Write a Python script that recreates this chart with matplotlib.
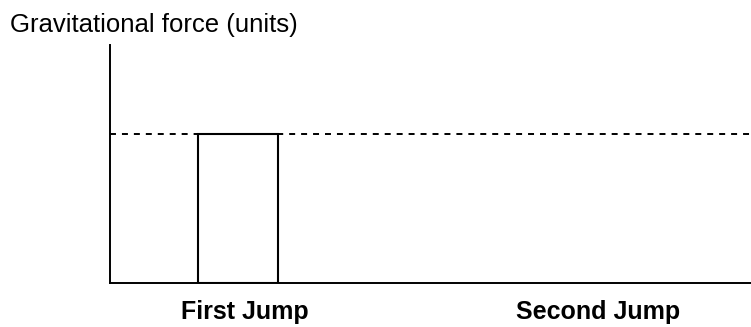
"""Gravitational force bar chart for two jumps, with a dashed reference line."""
import matplotlib
matplotlib.use("Agg")
import matplotlib.pyplot as plt
from matplotlib.transforms import ScaledTranslation

plt.rcParams["font.family"] = ["Liberation Sans", "DejaVu Sans"]
plt.rcParams["lines.scale_dashes"] = False

# data
categories = ["First Jump", "Second Jump"]
forces = [1.0, 0.0]
reference_force = 1.0

fig = plt.figure(figsize=(7.51, 3.27), dpi=100)
ax = fig.add_axes([0.1465, 0.1346, 0.8535, 0.7278])

positions = list(range(len(categories)))
# only non-zero forces get a bar
for x, f in zip(positions, forces):
    if f > 0:
        ax.bar(x, f, width=0.227, facecolor="white", edgecolor="black",
               linewidth=1.5, zorder=3)

ax.axhline(reference_force, color="black", linewidth=1.4,
           linestyle=(0, (4.3, 4.3)), zorder=2)

ax.set_xlim(-0.3626, 1.453)
ax.set_ylim(0, 1.6)

ax.set_xticks(positions)
ax.set_xticklabels(categories, fontsize=18, fontweight="bold")
ax.set_yticks([])
ax.tick_params(axis="x", length=0, pad=12)
# nudge the category labels a little to the right
shift = ScaledTranslation(0.07, 0, fig.dpi_scale_trans)
for lbl in ax.get_xticklabels():
    lbl.set_transform(lbl.get_transform() + shift)

for side in ("top", "right"):
    ax.spines[side].set_visible(False)
for side in ("left", "bottom"):
    ax.spines[side].set_linewidth(1.4)

fig.text(0.013, 1 - 32 / 327, "Gravitational force (units)",
         fontsize=18.5, va="baseline", ha="left")

fig.savefig("out.png", dpi=100)
